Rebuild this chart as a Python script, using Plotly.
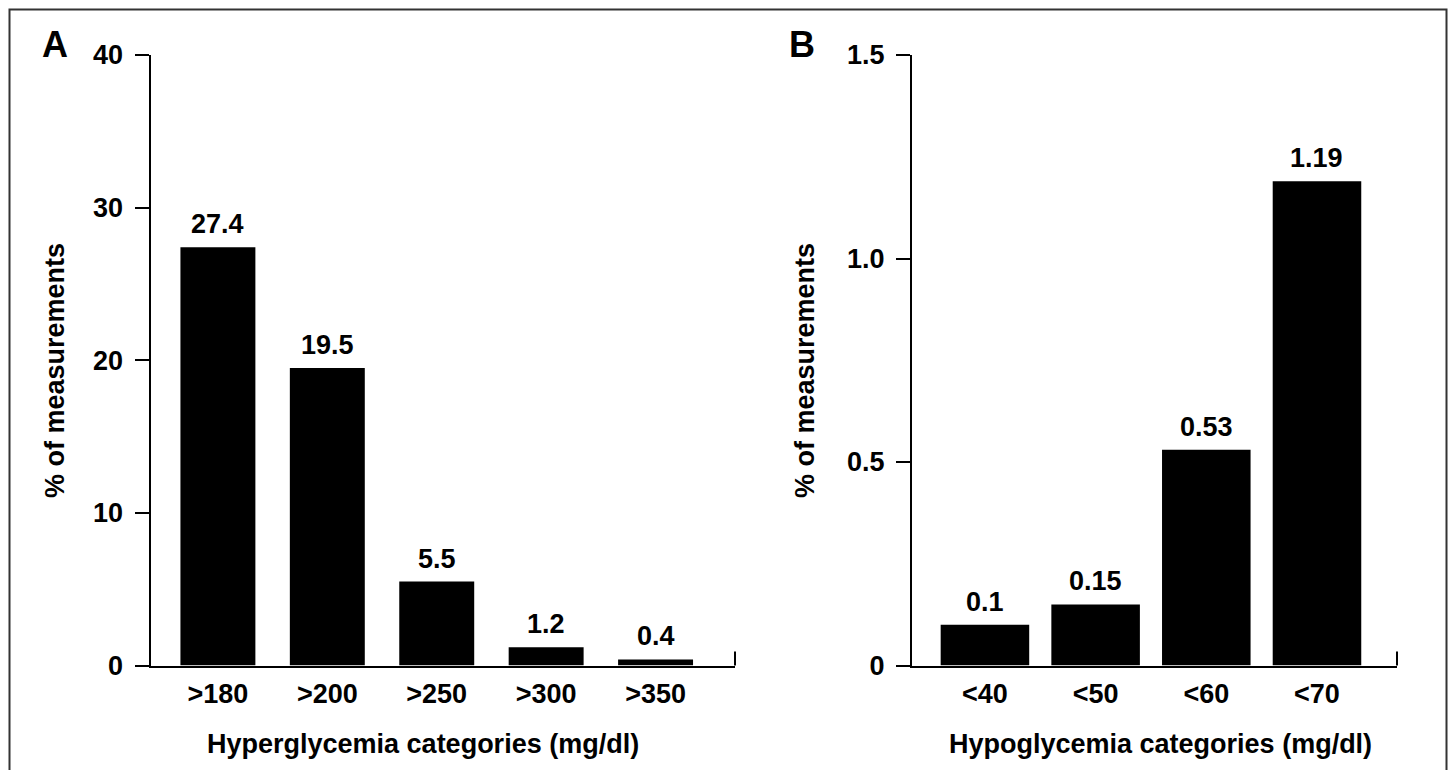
import plotly.graph_objects as go

W, H = 1448, 770

hyper_cats = [">180", ">200", ">250", ">300", ">350"]
hyper_vals = [27.4, 19.5, 5.5, 1.2, 0.4]
hyper_labels = ["27.4", "19.5", "5.5", "1.2", "0.4"]
hyper_ticks = [0, 10, 20, 30, 40]
hyper_ticktext = ["0", "10", "20", "30", "40"]

hypo_cats = ["<40", "<50", "<60", "<70"]
hypo_vals = [0.1, 0.15, 0.53, 1.19]
hypo_labels = ["0.1", "0.15", "0.53", "1.19"]
hypo_ticks = [0, 0.5, 1.0, 1.5]
hypo_ticktext = ["0", "0.5", "1.0", "1.5"]

FONT = "Liberation Sans, Arial, Helvetica, sans-serif"
FS = 27

def px_x(p):
    return p / W

def px_y(p):
    return 1 - p / H

fig = go.Figure()
fig.add_trace(go.Bar(x=list(range(len(hyper_cats))), y=hyper_vals, width=0.685,
                     marker=dict(color="black", line=dict(width=0)),
                     xaxis="x", yaxis="y", showlegend=False, hoverinfo="skip"))
fig.add_trace(go.Bar(x=list(range(len(hypo_cats))), y=hypo_vals, width=0.80,
                     marker=dict(color="black", line=dict(width=0)),
                     xaxis="x2", yaxis="y2", showlegend=False, hoverinfo="skip"))

ydom = [px_y(665.5), px_y(55)]
tfont = dict(family=FONT, size=FS, color="black", weight="bold")
common_y = dict(showline=True, linewidth=2, linecolor="black", ticks="outside",
                ticklen=14, tickwidth=2, tickcolor="black", showgrid=False,
                zeroline=False, tickfont=tfont, automargin=False,
                ticklabelstandoff=6, domain=ydom)
common_x = dict(showline=True, linewidth=2, linecolor="black", ticks="",
                showgrid=False, zeroline=False, tickfont=tfont, automargin=False,
                ticklabelstandoff=3)

fig.update_layout(
    template="none",
    width=W, height=H,
    margin=dict(l=0, r=0, t=0, b=0, pad=0, autoexpand=False),
    paper_bgcolor="white", plot_bgcolor="white",
    xaxis=dict(common_x, domain=[px_x(150.5), px_x(735)], range=[-0.616, 4.726],
               tickvals=list(range(len(hyper_cats))), ticktext=hyper_cats, anchor="y"),
    yaxis=dict(common_y, range=[0, 40], tickvals=hyper_ticks, ticktext=hyper_ticktext, anchor="x"),
    xaxis2=dict(common_x, domain=[px_x(912), px_x(1397)], range=[-0.659, 3.723],
                tickvals=list(range(len(hypo_cats))), ticktext=hypo_cats, anchor="y2"),
    yaxis2=dict(common_y, range=[0, 1.5], tickvals=hypo_ticks, ticktext=hypo_ticktext, anchor="x2"),
)

def bold(s):
    return dict(family=FONT, size=s, color="black", weight="bold")

# value labels above bars
for i, (v, t) in enumerate(zip(hyper_vals, hyper_labels)):
    fig.add_annotation(x=i, y=v, xref="x", yref="y", text=t, showarrow=False,
                       yanchor="bottom", yshift=6, font=bold(FS))
for i, (v, t) in enumerate(zip(hypo_vals, hypo_labels)):
    fig.add_annotation(x=i, y=v, xref="x2", yref="y2", text=t, showarrow=False,
                       yanchor="bottom", yshift=6, font=bold(FS))

# axis titles
fig.add_annotation(x=px_x(423), y=px_y(744), xref="paper", yref="paper",
                   text="Hyperglycemia categories (mg/dl)", showarrow=False,
                   xanchor="center", yanchor="middle", font=bold(FS))
fig.add_annotation(x=px_x(1160), y=px_y(744), xref="paper", yref="paper",
                   text="Hypoglycemia categories (mg/dl)", showarrow=False,
                   xanchor="center", yanchor="middle", font=bold(FS))
fig.add_annotation(x=px_x(55), y=px_y(371), xref="paper", yref="paper",
                   text="% of measurements", showarrow=False, textangle=-90,
                   xanchor="center", yanchor="middle", font=bold(FS))
fig.add_annotation(x=px_x(805), y=px_y(371), xref="paper", yref="paper",
                   text="% of measurements", showarrow=False, textangle=-90,
                   xanchor="center", yanchor="middle", font=bold(FS))

# panel letters
fig.add_annotation(x=px_x(55), y=px_y(45), xref="paper", yref="paper", text="A",
                   showarrow=False, xanchor="center", yanchor="middle", font=bold(36))
fig.add_annotation(x=px_x(802), y=px_y(45), xref="paper", yref="paper", text="B",
                   showarrow=False, xanchor="center", yanchor="middle", font=bold(36))

# small end ticks at right of x axes
for xr, yr in (("x domain", "y domain"), ("x2 domain", "y2 domain")):
    fig.add_shape(type="line", xref=xr, yref=yr, x0=1, x1=1, y0=0, y1=14 / 610,
                  line=dict(color="black", width=2))

# outer frame
fig.add_shape(type="rect", xref="paper", yref="paper",
              x0=px_x(9.5), x1=px_x(1446.5), y0=-0.05, y1=px_y(9.5),
              line=dict(color="#333333", width=2), fillcolor="rgba(0,0,0,0)", layer="below")

fig.write_html("out.html", config={"displayModeBar": False},
               post_script="document.body.style.margin='0';document.body.style.overflow='hidden';")
